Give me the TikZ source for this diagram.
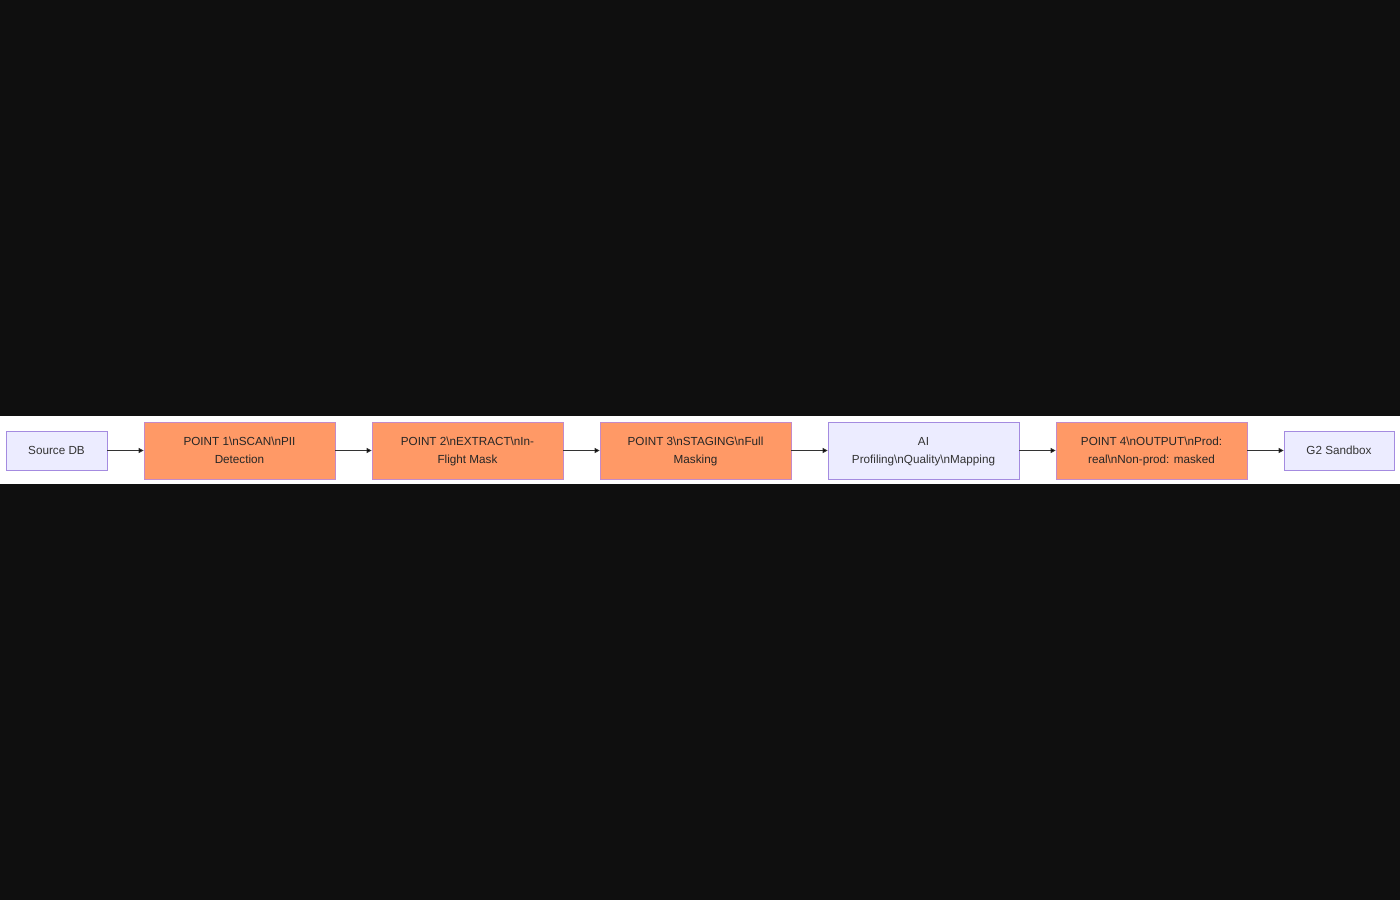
\documentclass[tikz,border=0pt]{standalone}
\usepackage{fontspec}
\setmainfont{Liberation Sans}
\usetikzlibrary{positioning, arrows.meta}
\newcommand{\bsn}{\textbackslash n}
\definecolor{pagebg}{HTML}{0F0F0F}
\definecolor{lavender}{HTML}{ECECFF}
\definecolor{lavline}{HTML}{A48BE0}
\definecolor{maskfill}{HTML}{FF9966}
\definecolor{maskline}{HTML}{C48AC8}
\definecolor{inkgrey}{HTML}{333333}

\begin{document}
\begin{tikzpicture}[x=1pt, y=-1pt,
    plain/.style={draw=lavline, fill=lavender, line width=0.7pt, text=inkgrey,
        minimum width=101pt, minimum height=39pt, inner sep=0pt, font=\fontsize{11.7}{18}\selectfont},
    mask/.style={draw=maskline, fill=maskfill, line width=0.7pt, text=black!85,
        minimum width=191pt, minimum height=57pt, inner sep=0pt, align=center, font=\fontsize{11.7}{18}\selectfont}]
    \useasboundingbox (0,0) rectangle (1400,900);
    \fill [pagebg] (0,0) rectangle (1400,900);
    \fill [white] (0,416) rectangle (1400,484);
    \node (src) [plain] at (56.5,450.5) {Source DB};
    \node (scan) [mask] at (239.5,450.5) {\strut POINT 1\bsn SCAN\bsn PII\\\strut Detection};
    \node (extract) [mask] at (467.5,450.5) {\strut POINT 2\bsn EXTRACT\bsn In-\\\strut Flight Mask};
    \node (staging) [mask] at (695.5,450.5) {\strut POINT 3\bsn STAGING\bsn Full\\\strut Masking};
    \node (ai) [plain, minimum width=191pt, minimum height=57pt, align=center] at (923.5,450.5) {\strut AI\\\strut Profiling\bsn Quality\bsn Mapping};
    \node (output) [mask] at (1151.5,450.5) {\strut POINT 4\bsn OUTPUT\bsn Prod:\\\strut real\bsn Non-prod: masked};
    \node (sandbox) [plain, minimum width=110pt] at (1339,450.5) {G2 Sandbox};
    \path [-{Triangle[length=5pt, width=5pt]}, draw=inkgrey, line width=0.7pt]
    (src) edge (scan)
    (scan) edge (extract)
    (extract) edge (staging)
    (staging) edge (ai)
    (ai) edge (output)
    (output) edge (sandbox);
\end{tikzpicture}
\end{document}
